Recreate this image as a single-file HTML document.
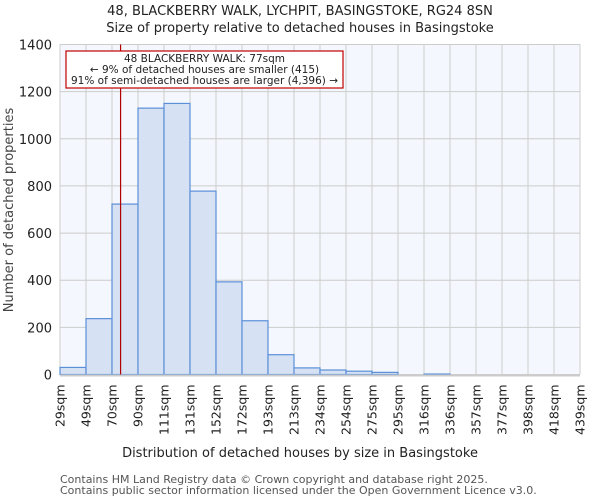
<!DOCTYPE html>
<html><head><meta charset="utf-8"><style>body{margin:0;background:#fff}svg{display:block;font-family:"DejaVu Sans","Liberation Sans",sans-serif}</style></head>
<body>
<svg id="c" width="600" height="500">
<text x="300" y="15" text-anchor="middle" font-size="13" fill="#222">48, BLACKBERRY WALK, LYCHPIT, BASINGSTOKE, RG24 8SN</text>
<text x="300" y="32" text-anchor="middle" font-size="13" fill="#222">Size of property relative to detached houses in Basingstoke</text>
<g id="plot"></g>
<text x="300" y="457" text-anchor="middle" font-size="13" fill="#222">Distribution of detached houses by size in Basingstoke</text>
<text transform="translate(13,210) rotate(-90)" text-anchor="middle" font-size="13" fill="#444">Number of detached properties</text>
<text x="60" y="483" font-size="11" fill="#555">Contains HM Land Registry data © Crown copyright and database right 2025.</text>
<text x="60" y="494" font-size="11" fill="#555">Contains public sector information licensed under the Open Government Licence v3.0.</text>
</svg>
<script>
const binLabels=["29sqm","49sqm","70sqm","90sqm","111sqm","131sqm","152sqm","172sqm","193sqm","213sqm","234sqm","254sqm","275sqm","295sqm","316sqm","336sqm","357sqm","377sqm","398sqm","418sqm","439sqm"];
const counts=[30,237,723,1130,1150,778,393,228,84,28,19,14,9,0,2,0,0,0,0,0];
const yTicks=[0,200,400,600,800,1000,1200,1400];
const markerIndex=2.33;
const ns="http://www.w3.org/2000/svg";
const X0=60,X1=580,Y0=374.5,Y1=44.5,YMAX=1400;
const bw=(X1-X0)/counts.length;
const xs=i=>X0+i*bw;
const ys=v=>Y0-(v/YMAX)*(Y0-Y1);
const g=document.getElementById('plot');
function mk(t,a){const e=document.createElementNS(ns,t);for(const k in a)e.setAttribute(k,a[k]);g.appendChild(e);return e;}
let bg=mk('rect',{x:X0,y:Y1,width:X1-X0,height:Y0-Y1,fill:'#f4f7fd'});


yTicks.forEach(v=>{
 let l=mk('line',{x1:X0,x2:X1,y1:ys(v),y2:ys(v),stroke:'#cccccc'});
 
 
 let t=mk('text',{x:X0-8,y:ys(v)+5,'text-anchor':'end','font-size':13,fill:'#222'});t.textContent=v;
 
 
});
binLabels.forEach((s,i)=>{
 let l=mk('line',{x1:xs(i),x2:xs(i),y1:Y1,y2:Y0,stroke:'#cccccc'});
 
 
 let t=mk('text',{transform:`translate(${xs(i)+4.5},${Y0+10}) rotate(-90)`,'text-anchor':'end','font-size':12.5,fill:'#222'});t.textContent=s;
 
 
});
counts.forEach((v,i)=>{
 if(v<=0)return;
 let r=mk('rect',{x:xs(i),y:ys(v),width:bw,height:Y0-ys(v),fill:'#d6e2f4',stroke:'#5b8fd8','stroke-width':1.2});
 
 
});
let ax=mk('line',{x1:X0,x2:X1,y1:Y0+1,y2:Y0+1,stroke:'#cccccc','stroke-width':2});


let m=mk('line',{x1:xs(markerIndex),x2:xs(markerIndex),y1:Y1,y2:Y0,stroke:'#b00000','stroke-width':1.2});


let box=mk('rect',{x:66,y:51,width:277,height:37,fill:'#fff',stroke:'#c00000','stroke-width':1.2});


["48 BLACKBERRY WALK: 77sqm","← 9% of detached houses are smaller (415)","91% of semi-detached houses are larger (4,396) →"].forEach((s,i)=>{
 let t=mk('text',{x:204.5,y:62+i*11,'text-anchor':'middle','font-size':10.5,fill:'#222'});t.textContent=s;
 
 
});
</script>
</body></html>
